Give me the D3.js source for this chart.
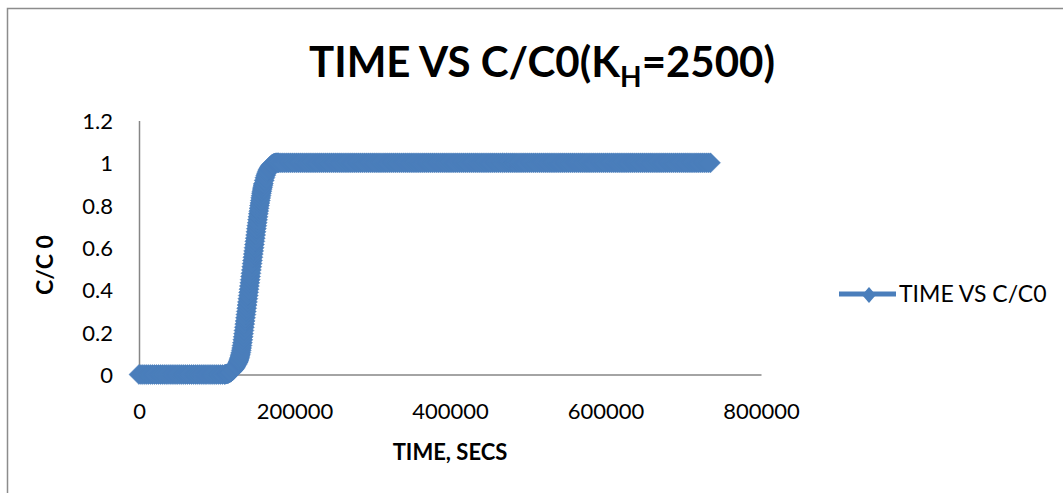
<!DOCTYPE html>
<html>
<head>
<meta charset="utf-8">
<script src="https://cdn.jsdelivr.net/npm/d3@7"></script>
<style>
  html, body { margin: 0; padding: 0; background: #ffffff; }
  svg { display: block; }
  text { font-family: Lato, "Open Sans", "Liberation Sans", sans-serif; fill: #000; }
</style>
</head>
<body>
<svg id="chart" width="1063" height="493"></svg>
<script>
// ---------------- DATA ----------------
const chartTitle = "TIME VS C/C0(K";
const titleSub = "H";
const titleTail = "=2500)";
const xAxisTitle = "TIME, SECS";
const yAxisTitle = "C/C 0";
const seriesName = "TIME VS C/C0";

const xTickValues = [0, 200000, 400000, 600000, 800000];
const yTickValues = [0, 0.2, 0.4, 0.6, 0.8, 1, 1.2];
const yTickLabels = ["0", "0.2", "0.4", "0.6", "0.8", "1", "1.2"];

// time (s) — flat part before breakthrough
const timesBefore = [
  0,2500,5000,7500,10000,12500,15000,17500,20000,22500,
  25000,27500,30000,32500,35000,37500,40000,42500,45000,47500,
  50000,52500,55000,57500,60000,62500,65000,67500,70000,72500,
  75000,77500,80000,82500,85000,87500,90000,92500,95000,97500,
  100000,102500,105000,107500,110000
];
const ratiosBefore = [
  0,0,0,0,0,0,0,0,0,0,
  0,0,0,0,0,0,0,0,0,0,
  0,0,0,0,0,0,0,0,0,0,
  0,0,0,0,0,0,0,0,0,0,
  0,0,0,0,0
];

// time (s) — breakthrough rise
const timesRise = [
  111000,112000,113000,114000,115000,116000,117000,118000,119000,120000,
  121000,122000,123000,124000,125000,126000,127000,
  127500,128000,128500,129000,129500,130000,130500,131000,131500,132000,
  132500,133000,133500,134000,134500,135000,135500,136000,136500,137000,
  137500,138000,138500,139000,139500,140000,140500,141000,141500,142000,
  142500,143000,143500,144000,144500,145000,145500,146000,146500,147000,
  147500,148000,148500,149000,149500,150000,150500,151000,151500,152000,
  152500,153000,153500,154000,154500,155000,155500,156000,156500,157000,
  157500,158000,158500,159000,159500,160000,
  161000,162000,163000,164000,165000,166000,167000,168000,169000,170000,
  171000,172000,173000,174000,175000,176000,177000,178000,179000
];
const ratiosRise = [
  0.001,0.002,0.003,0.004,0.005,0.007,0.009,0.011,0.014,0.017,
  0.021,0.025,0.030,0.035,0.041,0.048,0.055,
  0.059,0.064,0.069,0.075,0.081,0.088,0.096,0.104,0.114,0.125,
  0.137,0.150,0.164,0.178,0.193,0.208,0.223,0.238,0.253,0.268,
  0.283,0.298,0.313,0.328,0.343,0.358,0.373,0.388,0.403,0.418,
  0.433,0.448,0.463,0.478,0.494,0.509,0.524,0.539,0.554,0.569,
  0.584,0.599,0.614,0.629,0.644,0.659,0.674,0.689,0.703,0.717,
  0.731,0.745,0.759,0.772,0.785,0.798,0.810,0.822,0.834,0.845,
  0.856,0.866,0.876,0.885,0.894,0.902,
  0.917,0.930,0.941,0.951,0.960,0.967,0.974,0.980,0.985,0.989,
  0.992,0.995,0.997,0.998,0.999,1,1,1,1
];

// time (s) — plateau after breakthrough
const timesAfter = [
  180000,182500,185000,187500,190000,192500,195000,197500,200000,202500,
  205000,207500,210000,212500,215000,217500,220000,222500,225000,227500,
  230000,232500,235000,237500,240000,242500,245000,247500,250000,252500,
  255000,257500,260000,262500,265000,267500,270000,272500,275000,277500,
  280000,282500,285000,287500,290000,292500,295000,297500,300000,302500,
  305000,307500,310000,312500,315000,317500,320000,322500,325000,327500,
  330000,332500,335000,337500,340000,342500,345000,347500,350000,352500,
  355000,357500,360000,362500,365000,367500,370000,372500,375000,377500,
  380000,382500,385000,387500,390000,392500,395000,397500,400000,402500,
  405000,407500,410000,412500,415000,417500,420000,422500,425000,427500,
  430000,432500,435000,437500,440000,442500,445000,447500,450000,452500,
  455000,457500,460000,462500,465000,467500,470000,472500,475000,477500,
  480000,482500,485000,487500,490000,492500,495000,497500,500000,502500,
  505000,507500,510000,512500,515000,517500,520000,522500,525000,527500,
  530000,532500,535000,537500,540000,542500,545000,547500,550000,552500,
  555000,557500,560000,562500,565000,567500,570000,572500,575000,577500,
  580000,582500,585000,587500,590000,592500,595000,597500,600000,602500,
  605000,607500,610000,612500,615000,617500,620000,622500,625000,627500,
  630000,632500,635000,637500,640000,642500,645000,647500,650000,652500,
  655000,657500,660000,662500,665000,667500,670000,672500,675000,677500,
  680000,682500,685000,687500,690000,692500,695000,697500,700000,702500,
  705000,707500,710000,712500,715000,717500,720000,722500,725000,727500,
  730000,732500,735000
];
const ratiosAfter = [
  1,1,1,1,1,1,1,1,1,1, 1,1,1,1,1,1,1,1,1,1,
  1,1,1,1,1,1,1,1,1,1, 1,1,1,1,1,1,1,1,1,1,
  1,1,1,1,1,1,1,1,1,1, 1,1,1,1,1,1,1,1,1,1,
  1,1,1,1,1,1,1,1,1,1, 1,1,1,1,1,1,1,1,1,1,
  1,1,1,1,1,1,1,1,1,1, 1,1,1,1,1,1,1,1,1,1,
  1,1,1,1,1,1,1,1,1,1, 1,1,1,1,1,1,1,1,1,1,
  1,1,1,1,1,1,1,1,1,1, 1,1,1,1,1,1,1,1,1,1,
  1,1,1,1,1,1,1,1,1,1, 1,1,1,1,1,1,1,1,1,1,
  1,1,1,1,1,1,1,1,1,1, 1,1,1,1,1,1,1,1,1,1,
  1,1,1,1,1,1,1,1,1,1, 1,1,1,1,1,1,1,1,1,1,
  1,1,1,1,1,1,1,1,1,1, 1,1,1,1,1,1,1,1,1,1,
  1,1,1
];

// ---------------- BUILD ----------------
function pairUp(ts, rs) {
  const n = Math.min(ts.length, rs.length);
  const out = [];
  for (let i = 0; i < n; i++) out.push({ t: ts[i], c: rs[i] });
  return out;
}
const points = [].concat(
  pairUp(timesBefore, ratiosBefore),
  pairUp(timesRise, ratiosRise),
  pairUp(timesAfter, ratiosAfter)
);

const plot = { left: 139, right: 761, top: 120.5, bottom: 374.5 };
const blue = "#4a7ebb";
const axisGray = "#868686";

const svg = d3.select("#chart");

svg.append("rect")
  .attr("x", 7.5).attr("y", 8.5)
  .attr("width", 1200).attr("height", 700)
  .attr("fill", "#fff")
  .attr("stroke", "#8c8c8c").attr("stroke-width", 1.5);

const x = d3.scaleLinear().domain([0, 800000]).range([plot.left, plot.right]);
const y = d3.scaleLinear().domain([0, 1.2]).range([plot.bottom, plot.top]);

// axes
const xAxis = d3.axisBottom(x).tickValues(xTickValues).tickSize(0).tickPadding(0)
  .tickFormat(d3.format("d"));
const gx = svg.append("g").attr("transform", `translate(0,${plot.bottom})`).call(xAxis);
gx.select(".domain").attr("stroke", axisGray).attr("stroke-width", 1.5);
gx.selectAll("text").attr("y", 44).attr("dy", null)
  .style("font-size", "22px").attr("fill", "#000");

const yAxis = d3.axisLeft(y).tickValues(yTickValues).tickSize(0).tickPadding(26)
  .tickFormat((d, i) => yTickLabels[i]);
const gy = svg.append("g").attr("transform", `translate(${plot.left},0)`).call(yAxis);
gy.select(".domain").attr("stroke", axisGray).attr("stroke-width", 1.5);
gy.selectAll("text").attr("dy", "0.36em")
  .style("font-size", "22px").attr("fill", "#000");

// series
const line = d3.line().x(d => x(d.t)).y(d => y(d.c));
const series = svg.append("g");
series.append("path")
  .datum(points)
  .attr("d", line)
  .attr("fill", "none")
  .attr("stroke", blue)
  .attr("stroke-width", 4)
  .attr("stroke-linejoin", "round");

const diamond = d3.symbol().type(d3.symbolSquare).size(200);
series.selectAll("path.mk")
  .data(points)
  .join("path")
  .attr("class", "mk")
  .attr("d", diamond)
  .attr("transform", d => `translate(${x(d.t)},${y(d.c)}) rotate(45)`)
  .attr("fill", blue)
  .attr("stroke", blue)
  .attr("stroke-width", 0.5);

// title
const title = svg.append("text")
  .attr("x", 542).attr("y", 77)
  .attr("text-anchor", "middle")
  .style("font-size", "42px").style("font-weight", "bold");
title.append("tspan").text(chartTitle);
title.append("tspan").text(titleSub).attr("dy", 10).style("font-size", "28px");
title.append("tspan").text(titleTail).attr("dy", -10);

// axis titles
svg.append("text")
  .attr("x", (plot.left + plot.right) / 2).attr("y", 460)
  .attr("text-anchor", "middle")
  .style("font-size", "22px").style("font-weight", "bold")
  .text(xAxisTitle);

svg.append("text")
  .attr("transform", `translate(53,265) rotate(-90)`)
  .attr("text-anchor", "middle")
  .style("font-size", "23px").style("font-weight", "bold")
  .text(yAxisTitle);

// legend
const lg = svg.append("g");
lg.append("line")
  .attr("x1", 839).attr("x2", 896).attr("y1", 294).attr("y2", 294)
  .attr("stroke", blue).attr("stroke-width", 5);
lg.append("path")
  .attr("d", d3.symbol().type(d3.symbolSquare).size(95))
  .attr("transform", "translate(869,295) scale(1,1.15) rotate(45)")
  .attr("fill", blue);
lg.append("text")
  .attr("x", 899).attr("y", 302)
  .style("font-size", "23px")
  .text(seriesName);
</script>
</body>
</html>
